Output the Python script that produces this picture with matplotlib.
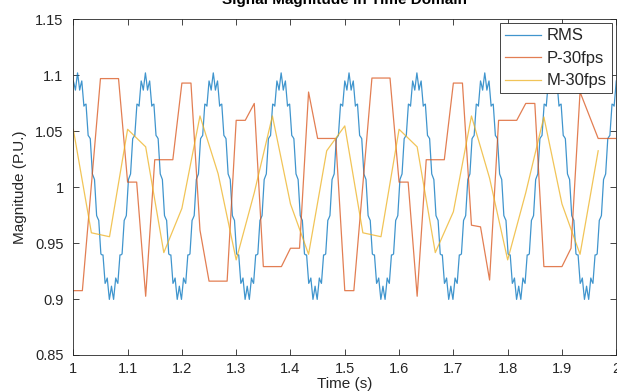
import numpy as np
import matplotlib
matplotlib.use("Agg")
import matplotlib.pyplot as plt

plt.rcParams['font.family'] = ['Liberation Sans', 'DejaVu Sans']

# ---- data ----
# One 0.125 s cycle of the RMS trace (64 samples), the trace repeats 8 times over 1..2 s
rms_cycle = [1.0949, 1.0912, 1.0867, 1.0948, 1.1021, 1.0948, 1.0867, 1.0912,
             1.0949, 1.0841, 1.0724, 1.0737, 1.0742, 1.0605, 1.0462, 1.0449,
             1.0433, 1.0277, 1.0118, 1.0093, 1.0068, 0.9907, 0.9746, 0.9723,
             0.9703, 0.9551, 0.9403, 0.9395, 0.9394, 0.9263, 0.9140, 0.9160,
             0.9188, 0.9088, 0.8997, 0.9052, 0.9115, 0.9052, 0.8997, 0.9088,
             0.9188, 0.9160, 0.9140, 0.9263, 0.9394, 0.9395, 0.9403, 0.9551,
             0.9703, 0.9723, 0.9746, 0.9907, 1.0068, 1.0093, 1.0118, 1.0277,
             1.0433, 1.0449, 1.0462, 1.0605, 1.0742, 1.0737, 1.0724, 1.0841]
n_cycles = 8

p_t = [1.0, 1.0167, 1.05, 1.0833, 1.1, 1.1167, 1.1333, 1.15, 1.1833, 1.2,
       1.2167, 1.2333, 1.25, 1.2833, 1.3, 1.3167, 1.3333, 1.35, 1.3833, 1.4,
       1.4167, 1.4333, 1.45, 1.4833, 1.5, 1.5167, 1.55, 1.5833, 1.6, 1.6167,
       1.6333, 1.65, 1.6833, 1.7, 1.7167, 1.7333, 1.75, 1.7667, 1.7833, 1.8167,
       1.8333, 1.85, 1.8667, 1.9, 1.9167, 1.9333, 1.9667, 2.0]
p_v = [0.9075, 0.9075, 1.097, 1.097, 1.0045, 1.0045, 0.9025, 1.0245, 1.0245, 1.093,
       1.093, 0.9616, 0.916, 0.916, 1.0597, 1.0597, 1.0748, 0.929, 0.929, 0.9454,
       0.9454, 1.085, 1.0435, 1.0435, 0.9075, 0.9075, 1.0975, 1.0975, 1.0045, 1.0045,
       0.9025, 1.0245, 1.0245, 1.093, 1.093, 0.966, 0.9645, 0.917, 1.0597, 1.0597,
       1.0748, 1.0748, 0.929, 0.929, 0.9454, 1.085, 1.0435, 1.0435]

m_t = [1.0, 1.0333, 1.0667, 1.1, 1.1333, 1.1667, 1.2, 1.2333, 1.2667, 1.3,
       1.3333, 1.3667, 1.4, 1.4333, 1.4667, 1.5, 1.5333, 1.5667, 1.6, 1.6333,
       1.6667, 1.7, 1.7333, 1.7667, 1.8, 1.8333, 1.8667, 1.9, 1.9333, 1.9667]
m_v = [1.0517, 0.9592, 0.9557, 1.0517, 1.036, 0.9415, 0.981, 1.0636, 1.012, 0.935,
       0.995, 1.0636, 0.985, 0.940, 1.0325, 1.0547, 0.9592, 0.9557, 1.0517, 1.036,
       0.9415, 0.978, 1.0636, 1.008, 0.935, 0.995, 1.0627, 0.985, 0.940, 1.0325]

x_ticks = [1, 1.1, 1.2, 1.3, 1.4, 1.5, 1.6, 1.7, 1.8, 1.9, 2]
x_labels = ['1', '1.1', '1.2', '1.3', '1.4', '1.5', '1.6', '1.7', '1.8', '1.9', '2']
y_ticks = [0.85, 0.9, 0.95, 1.0, 1.05, 1.1, 1.15]
y_labels = ['0.85', '0.9', '0.95', '1', '1.05', '1.1', '1.15']

# ---- build RMS series ----
rms_v = list(rms_cycle) * n_cycles + [rms_cycle[0]]
rms_t = np.linspace(1.0, 2.0, len(rms_v))

fig = plt.figure(figsize=(6.17, 3.92), dpi=100)
ax = fig.add_axes([0.1188, 0.0944, 0.880, 0.8564])

c_blue = '#0072BD'
c_orange = '#D95319'
c_yellow = '#EDB120'
ax.plot(rms_t, rms_v, color=c_blue, lw=0.9, alpha=0.75, label='RMS')
ax.plot(p_t, p_v, color=c_orange, lw=0.9, alpha=0.75, label='P-30fps')
ax.plot(m_t, m_v, color=c_yellow, lw=0.9, alpha=0.75, label='M-30fps')

ax.set_xlim(1, 2)
ax.set_ylim(0.85, 1.15)
ax.set_xticks(x_ticks)
ax.set_xticklabels(x_labels)
ax.set_yticks(y_ticks)
ax.set_yticklabels(y_labels)

tc = '#262626'
ax.tick_params(direction='in', length=4, width=0.6, top=True, right=True,
               labelsize=10.5, colors=tc)
ax.tick_params(axis='x', pad=5)
ax.tick_params(axis='y', pad=7)
for s in ax.spines.values():
    s.set_color('#262626')
    s.set_linewidth(0.6)

ax.set_xlabel('Time (s)', fontsize=11, color=tc, labelpad=1)
ax.set_ylabel('Magnitude (P.U.)', fontsize=11, color=tc, labelpad=6)
ax.set_title('Signal Magnitude in Time Domain', fontsize=11, fontweight='bold',
             color='#000000', pad=11)

leg = ax.legend(loc='upper right', fontsize=12, frameon=True, fancybox=False,
                edgecolor='#262626', framealpha=1.0, handlelength=2.2,
                handletextpad=0.35, labelspacing=0.45, borderpad=0.3,
                borderaxespad=0.25)
leg.get_frame().set_linewidth(0.6)
for t in leg.get_texts():
    t.set_color(tc)

fig.savefig('out.png', dpi=100)
